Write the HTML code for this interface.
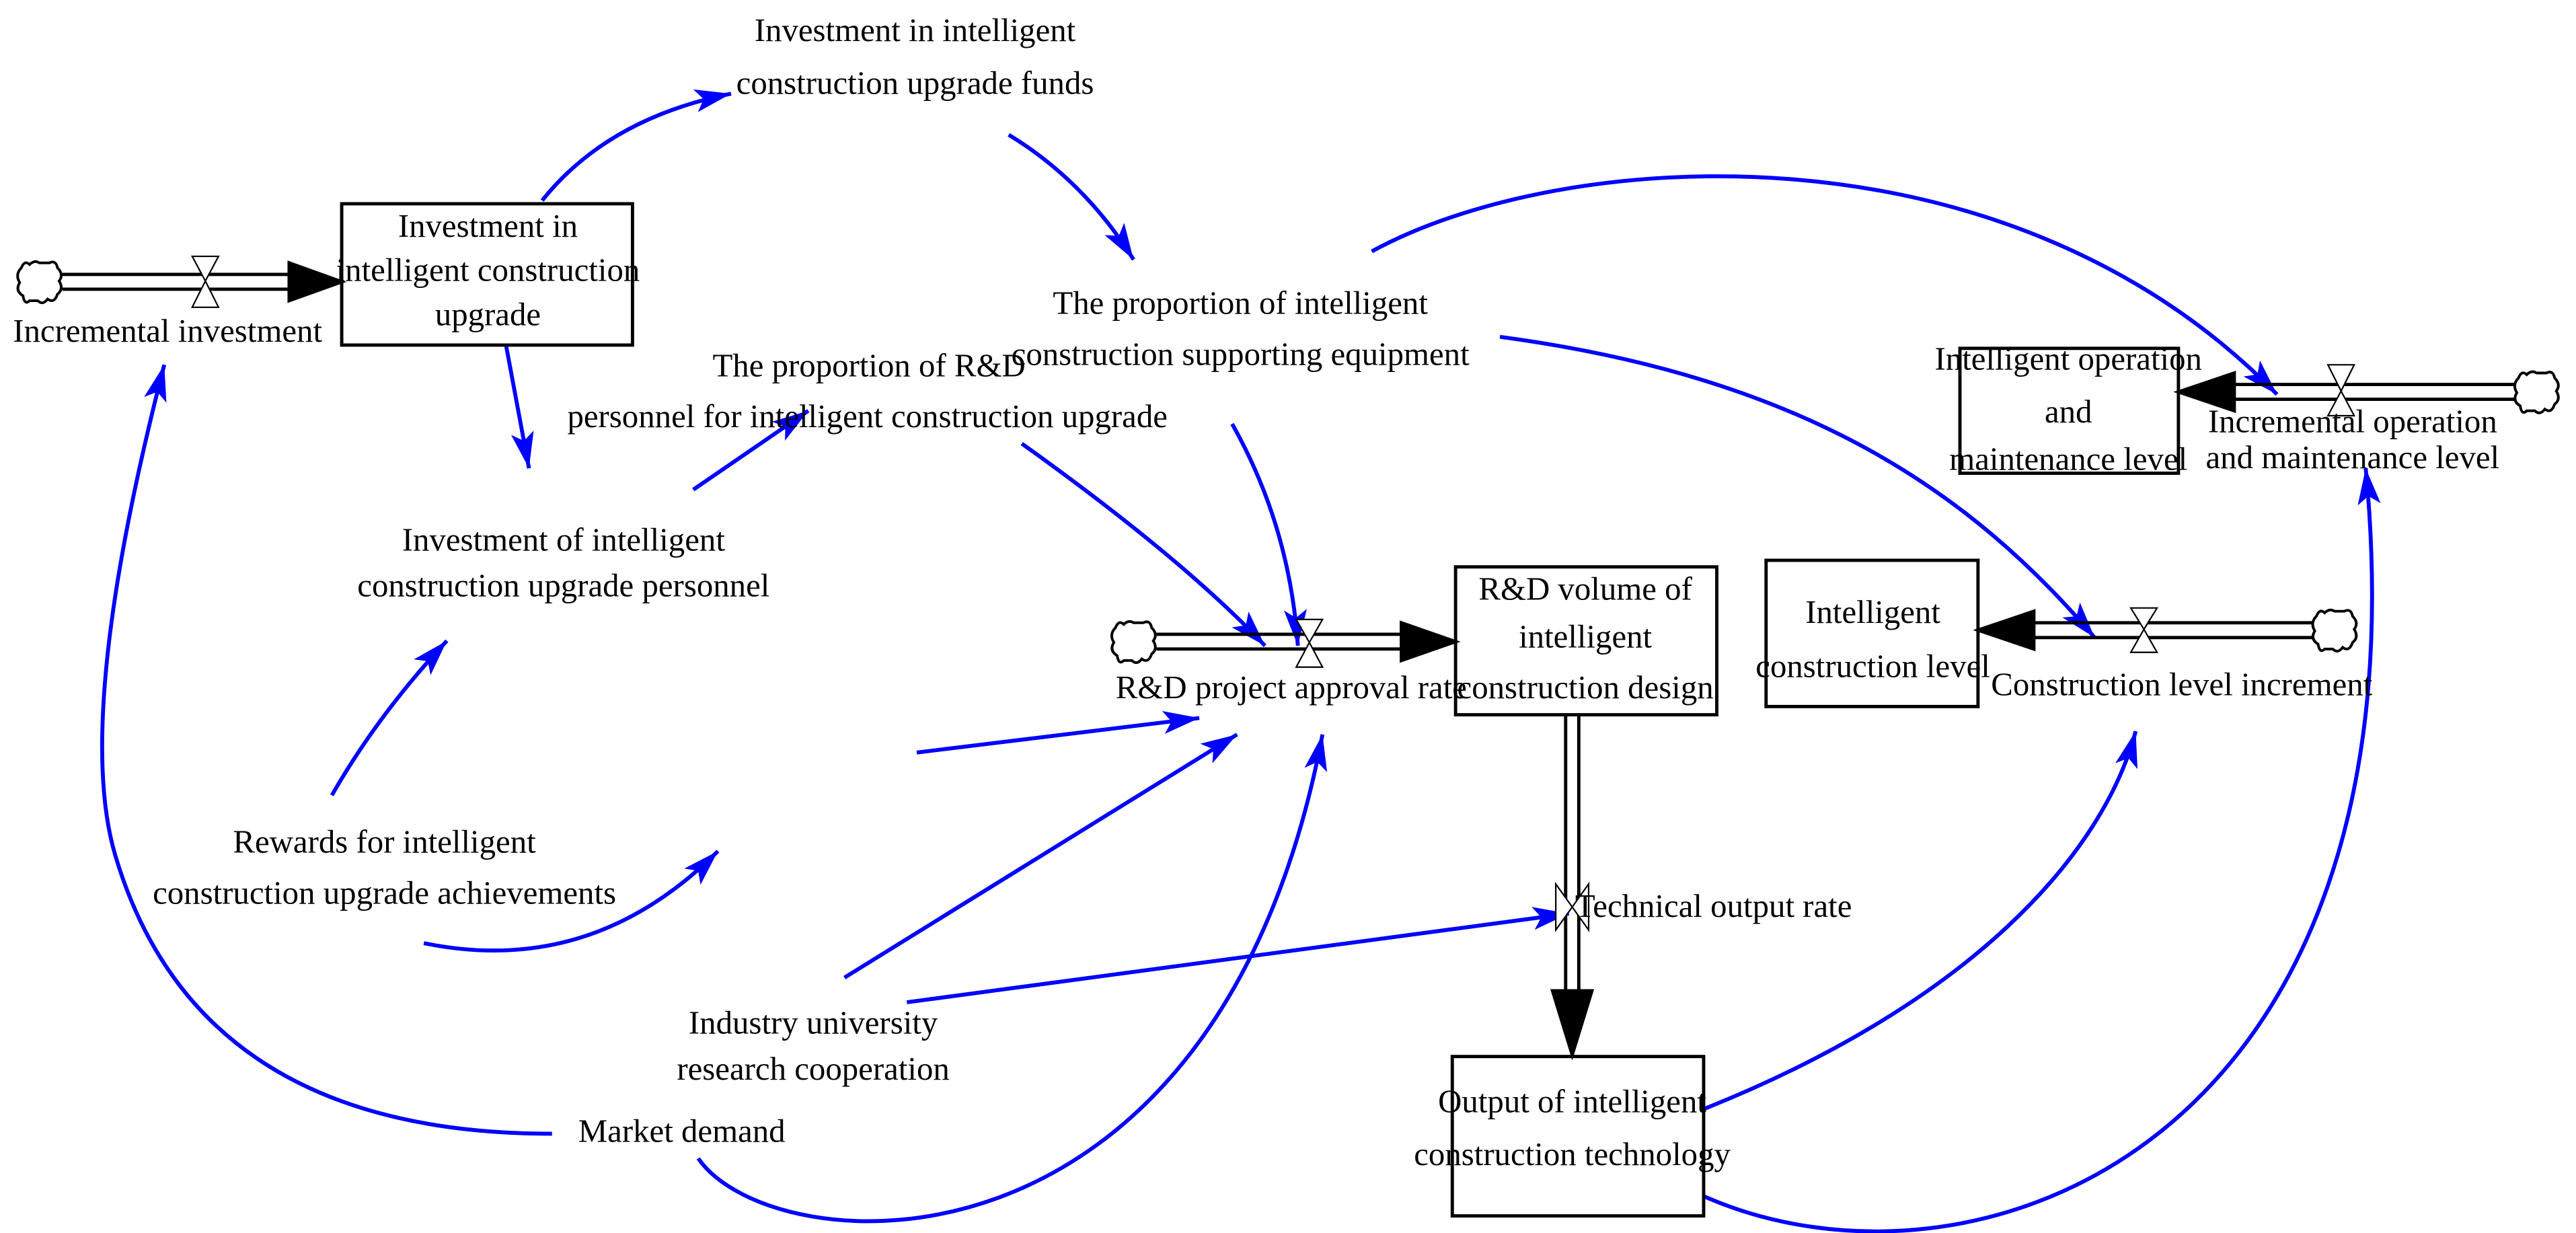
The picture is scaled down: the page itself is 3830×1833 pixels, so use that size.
<!DOCTYPE html>
<html><head><meta charset="utf-8"><style>
html,body{margin:0;padding:0;background:#fff;}
svg{display:block;}
text{font-family:"Liberation Serif",serif;font-size:20px;fill:#000;text-anchor:middle;}
</style></head><body>
<svg width="3830" height="1833" viewBox="0 0 1568 750.4" xmlns="http://www.w3.org/2000/svg">
<defs>
<marker id="a" markerUnits="userSpaceOnUse" markerWidth="24" markerHeight="16" refX="22" refY="7" orient="auto"><path d="M0,0 L22,7 L0,14 L5,7 z" fill="#0000ff"/></marker>
<symbol id="cloud" viewBox="0 0 30 30"><path d="M4,6 Q6,1 9,4 Q12,1 15,3 L21,3 Q25,1 26,6 Q30,10 27,14 Q30,19 26,22 Q24,28 20,25 Q17,29 14,26 L9,26 Q6,29 5,23 Q0,20 3,15 Q0,10 4,6 z" fill="#fff" stroke="#000" stroke-width="1.6"/></symbol>
</defs>
<g fill="none" stroke="#0000ff" stroke-width="2.4" marker-end="url(#a)">
<path d="M330,122 Q370,72 445,57"/>
<path d="M614,82 Q660,110 690,158"/>
<path d="M308,210 L322,285"/>
<path d="M422,298 L492,250"/>
<path d="M202,484 Q230,435 272,390"/>
<path d="M258,574 Q360,595 437,518"/>
<path d="M558,458 L730,437"/>
<path d="M514,595 L753,447"/>
<path d="M552,610 L955,556"/>
<path d="M336,690 Q120,690 70,520 Q45,435 100,222"/>
<path d="M425,705 C470,770 740,790 805,447"/>
<path d="M622,270 Q720,340 770,393"/>
<path d="M750,258 Q785,320 790,393"/>
<path d="M835,153 C950,90 1220,70 1386,240"/>
<path d="M913,205 C1100,230 1200,300 1275,388"/>
<path d="M1037,675 C1200,610 1280,520 1300,445"/>
<path d="M1037,728 C1200,800 1480,700 1440,285"/>
</g>
<g stroke="#000" stroke-width="2" fill="#fff">
<!-- flow 1 -->
<line x1="38" y1="167" x2="178" y2="167"/><line x1="38" y1="176" x2="178" y2="176"/>
<path d="M176,160 L208,171.5 L176,183 z" fill="#000"/>
<!-- flow R&D -->
<line x1="704" y1="386" x2="855" y2="386"/><line x1="704" y1="395" x2="855" y2="395"/>
<path d="M853,379 L886,390.5 L853,402 z" fill="#000"/>
<!-- vertical -->
<line x1="953" y1="435" x2="953" y2="605"/><line x1="961" y1="435" x2="961" y2="605"/>
<path d="M945,603 L957,642 L969,603 z" fill="#000"/>
<!-- construction level -->
<line x1="1236" y1="379" x2="1408" y2="379"/><line x1="1236" y1="388" x2="1408" y2="388"/>
<path d="M1238,372 L1204,383.5 L1238,395 z" fill="#000"/>
<!-- O&M -->
<line x1="1358" y1="234" x2="1532" y2="234"/><line x1="1358" y1="243" x2="1532" y2="243"/>
<path d="M1360,227 L1326,238.5 L1360,250 z" fill="#000"/>
</g>
<g stroke="#000" stroke-width="0.9" fill="#fff">
<path d="M117,156 L133,156 L125,171 L133,187 L117,187 L125,171 z"/>
<path d="M789,377 L805,377 L797,391 L805,406 L789,406 L797,391 z"/>
<path d="M947,538 L947,566 L957,552 L967,566 L967,538 L957,552 z"/>
<path d="M1297,370 L1313,370 L1305,383 L1313,397 L1297,397 L1305,383 z"/>
<path d="M1417,222 L1433,222 L1425,238 L1433,253 L1417,253 L1425,238 z"/>
</g>
<use href="#cloud" x="9" y="157" width="30" height="30"/>
<use href="#cloud" x="675" y="376" width="30" height="30"/>
<use href="#cloud" x="1406" y="369" width="30" height="30"/>
<use href="#cloud" x="1529" y="224" width="30" height="30"/>
<g fill="none" stroke="#000" stroke-width="2">
<rect x="208" y="124" width="177" height="86"/>
<rect x="886" y="345" width="159" height="90"/>
<rect x="884" y="643" width="153" height="97"/>
<rect x="1075" y="341" width="129" height="89"/>
<rect x="1193" y="212" width="133" height="76"/>
</g>
<text x="102" y="208">Incremental investment</text>
<text x="297" y="144">Investment in</text>
<text x="297" y="171">intelligent construction</text>
<text x="297" y="198">upgrade</text>
<text x="557" y="25">Investment in intelligent</text>
<text x="557" y="57">construction upgrade funds</text>
<text x="755" y="191">The proportion of intelligent</text>
<text x="755" y="222">construction supporting equipment</text>
<text x="529" y="229">The proportion of R&amp;D</text>
<text x="528" y="260">personnel for intelligent construction upgrade</text>
<text x="343" y="335">Investment of intelligent</text>
<text x="343" y="363">construction upgrade personnel</text>
<text x="234" y="519">Rewards for intelligent</text>
<text x="234" y="550">construction upgrade achievements</text>
<text x="495" y="629">Industry university</text>
<text x="495" y="657">research cooperation</text>
<text x="415" y="695">Market demand</text>
<text x="786" y="425">R&amp;D project approval rate</text>
<text x="965" y="365">R&amp;D volume of</text>
<text x="965" y="394">intelligent</text>
<text x="965" y="425">construction design</text>
<text x="1043" y="558">Technical output rate</text>
<text x="957" y="677">Output of intelligent</text>
<text x="957" y="709">construction technology</text>
<text x="1140" y="379">Intelligent</text>
<text x="1140" y="412">construction level</text>
<text x="1328" y="423">Construction level increment</text>
<text x="1259" y="225">Intelligent operation</text>
<text x="1259" y="257">and</text>
<text x="1259" y="286">maintenance level</text>
<text x="1432" y="263">Incremental operation</text>
<text x="1432" y="285">and maintenance level</text>
</svg>
</body></html>
